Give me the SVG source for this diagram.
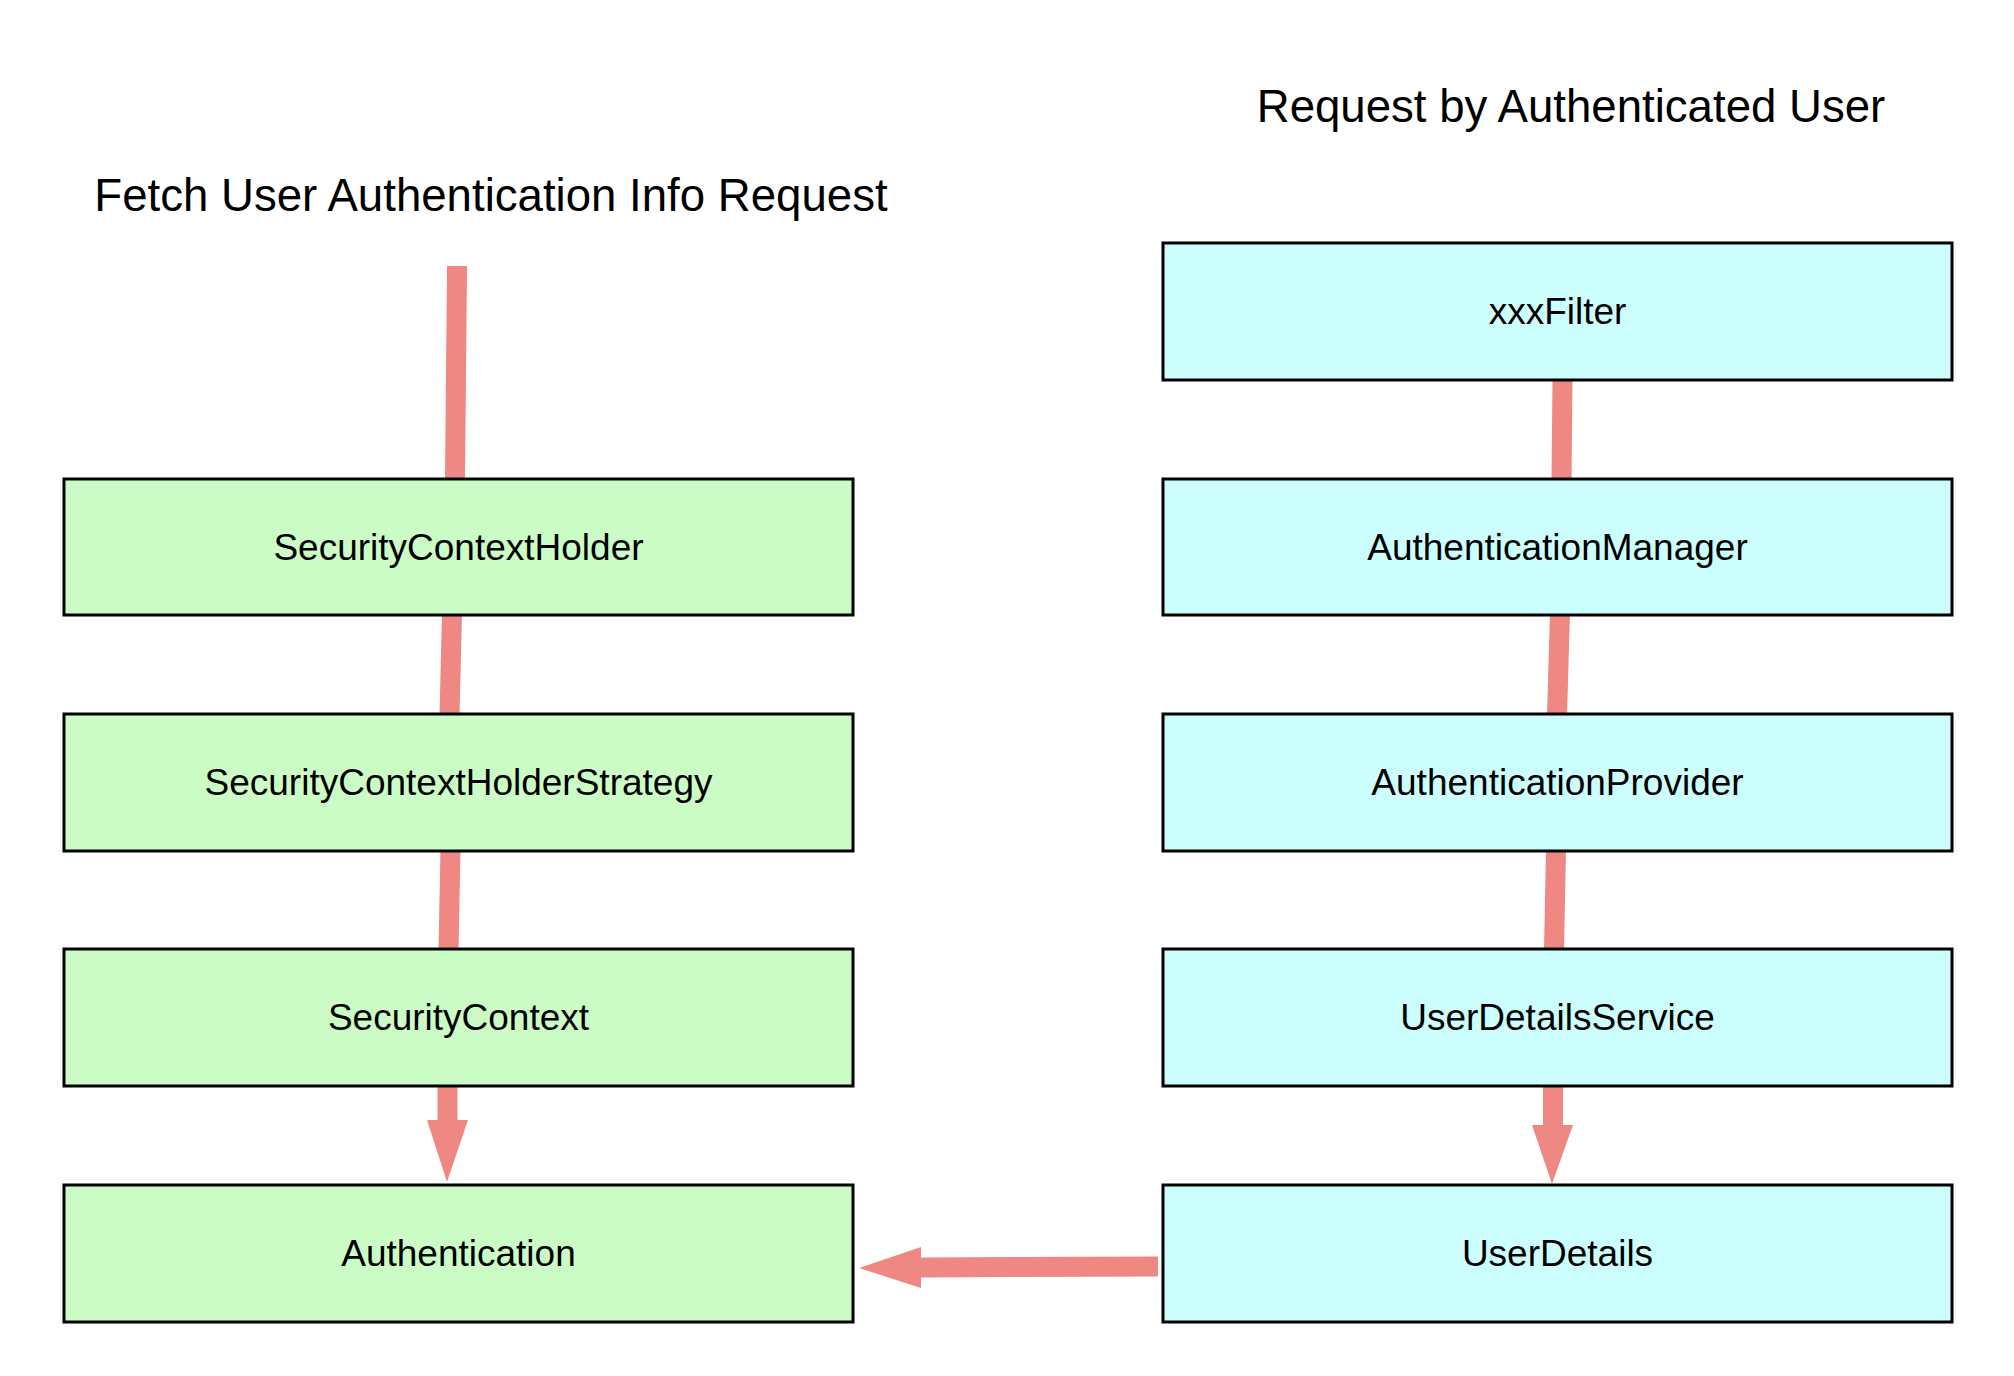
<svg xmlns="http://www.w3.org/2000/svg" width="2014" height="1376" viewBox="0 0 2014 1376">
<style>
.bg{fill:#ffffff}
.title{font-family:"Liberation Sans",Arial,sans-serif;font-size:45.6px;fill:#000;text-anchor:middle}
.lbl{font-family:"Liberation Sans",Arial,sans-serif;font-size:37px;fill:#000;text-anchor:middle}
.green{fill:#ccfcc6;stroke:#000;stroke-width:3}
.cyan{fill:#ccfefe;stroke:#000;stroke-width:3}
.edge{stroke:#ef8783;stroke-width:20;fill:none}
.head{fill:#ef8783;stroke:none}
</style>
<rect class="bg" x="0" y="0" width="2014" height="1376"/>
<text class="title" x="491" y="211">Fetch User Authentication Info Request</text>
<text class="title" x="1571" y="122">Request by Authenticated User</text>
<g id="connectors">
<line class="edge" x1="457" y1="266" x2="455" y2="481"/>
<line class="edge" x1="452" y1="613" x2="449.5" y2="716"/>
<line class="edge" x1="450.5" y1="849" x2="448.5" y2="951"/>
<line class="edge" x1="447.5" y1="1084" x2="447.5" y2="1122"/>
<polygon class="head" points="427,1120 468,1120 447,1182"/>
<line class="edge" x1="1562.5" y1="378" x2="1561.5" y2="481"/>
<line class="edge" x1="1560" y1="613" x2="1557" y2="716"/>
<line class="edge" x1="1556" y1="849" x2="1554" y2="951"/>
<line class="edge" x1="1553" y1="1084" x2="1553" y2="1127"/>
<polygon class="head" points="1532,1125 1573,1125 1552,1184"/>
<line class="edge" x1="1158" y1="1266.5" x2="919" y2="1267.5"/>
<polygon class="head" points="921,1247 921,1288 859,1268"/>
</g>
<g id="n-sch"><rect class="green" x="64" y="479" width="789" height="136"/><text class="lbl" x="458.5" y="560">SecurityContextHolder</text></g>
<g id="n-schs"><rect class="green" x="64" y="714" width="789" height="137"/><text class="lbl" x="458.5" y="795">SecurityContextHolderStrategy</text></g>
<g id="n-sc"><rect class="green" x="64" y="949" width="789" height="137"/><text class="lbl" x="458.5" y="1030">SecurityContext</text></g>
<g id="n-auth"><rect class="green" x="64" y="1185" width="789" height="137"/><text class="lbl" x="458.5" y="1266">Authentication</text></g>
<g id="n-filter"><rect class="cyan" x="1163" y="243" width="789" height="137"/><text class="lbl" x="1557.5" y="324">xxxFilter</text></g>
<g id="n-am"><rect class="cyan" x="1163" y="479" width="789" height="136"/><text class="lbl" x="1557.5" y="560">AuthenticationManager</text></g>
<g id="n-ap"><rect class="cyan" x="1163" y="714" width="789" height="137"/><text class="lbl" x="1557.5" y="795">AuthenticationProvider</text></g>
<g id="n-uds"><rect class="cyan" x="1163" y="949" width="789" height="137"/><text class="lbl" x="1557.5" y="1030">UserDetailsService</text></g>
<g id="n-ud"><rect class="cyan" x="1163" y="1185" width="789" height="137"/><text class="lbl" x="1557.5" y="1266">UserDetails</text></g>
</svg>
